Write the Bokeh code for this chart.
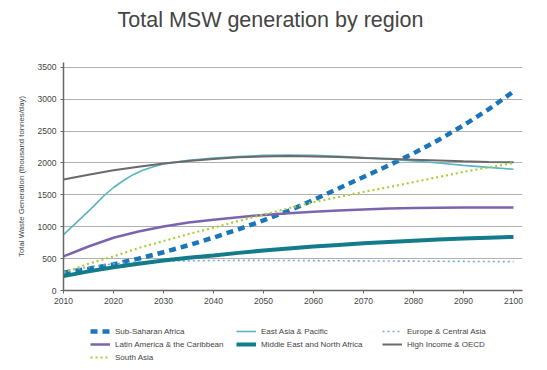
from bokeh.plotting import figure
from bokeh.layouts import column
from bokeh.models import Legend, LegendItem, Title, FixedTicker, Range1d
from bokeh.embed import file_html
from bokeh.resources import INLINE

years = [2010, 2015, 2020, 2025, 2030, 2035, 2040, 2045, 2050, 2055,
         2060, 2065, 2070, 2075, 2080, 2085, 2090, 2095, 2100]

sub_saharan = [280, 340, 410, 500, 600, 710, 830, 960, 1100, 1250,
               1420, 1600, 1780, 1960, 2150, 2360, 2590, 2840, 3120]
south_asia = [280, 420, 535, 665, 775, 885, 985, 1090, 1190, 1290,
              1385, 1465, 1545, 1620, 1700, 1780, 1860, 1930, 2000]
latin_america = [534, 690, 827, 925, 1005, 1065, 1110, 1150, 1185, 1212,
                 1235, 1255, 1272, 1284, 1292, 1297, 1300, 1302, 1303]
middle_east = [225, 300, 366, 420, 471, 513, 549, 590, 628, 660,
               690, 715, 740, 760, 780, 800, 815, 828, 840]
europe = [295, 370, 420, 445, 460, 465, 470, 472, 472, 470,
          468, 466, 464, 462, 460, 458, 456, 454, 452]
high_income = [1740, 1815, 1885, 1940, 1990, 2030, 2060, 2088, 2103, 2108,
               2103, 2092, 2077, 2064, 2051, 2038, 2025, 2015, 2009]

east_asia_years = [2010, 2012, 2014, 2016, 2018, 2020, 2022, 2024, 2026,
                   2028, 2030, 2035, 2040, 2045, 2050, 2055, 2060, 2065,
                   2070, 2075, 2080, 2085, 2090, 2095, 2100]
east_asia = [875, 1020, 1170, 1320, 1480, 1615, 1725, 1820, 1890,
             1940, 1985, 2040, 2075, 2100, 2118, 2125, 2119, 2105,
             2083, 2058, 2030, 1998, 1962, 1930, 1900]

x_ticks = [2010, 2020, 2030, 2040, 2050, 2060, 2070, 2080, 2090, 2100]
y_ticks = [0, 500, 1000, 1500, 2000, 2500, 3000, 3500]

TITLE = "Total MSW generation by region"
FONT = "Liberation Sans"
TXT = "#444444"

styles = {
    "Sub-Saharan Africa": dict(line_color="#1b75bb", line_width=4.5,
                               line_dash="7 5", line_cap="butt"),
    "East Asia & Pacific": dict(line_color="#5ab4c2", line_width=1.6),
    "Europe & Central Asia": dict(line_color="#7aa8dc", line_width=1.6,
                                  line_dash="2 3"),
    "Latin America & the Caribbean": dict(line_color="#7b64ad", line_width=2.5),
    "Middle East and North Africa": dict(line_color="#137b8c", line_width=4),
    "High Income & OECD": dict(line_color="#6a6a6a", line_width=2),
    "South Asia": dict(line_color="#a7cf38", line_width=2.2, line_dash="2 3"),
}
series = [
    ("Sub-Saharan Africa", years, sub_saharan),
    ("East Asia & Pacific", east_asia_years, east_asia),
    ("Europe & Central Asia", years, europe),
    ("Latin America & the Caribbean", years, latin_america),
    ("Middle East and North Africa", years, middle_east),
    ("High Income & OECD", years, high_income),
    ("South Asia", years, south_asia),
]

W = 542

# ---- header with title ----
head = figure(width=W, height=62, output_backend="svg", toolbar_location=None,
              x_axis_type=None, y_axis_type=None, min_border=0,
              x_range=Range1d(0, 1), y_range=Range1d(0, 1))
head.outline_line_color = None
head.grid.visible = False
head.title = None
head.add_layout(Title(text=TITLE, text_font=FONT, text_font_size="21.5px",
                      text_font_style="normal", text_color=TXT,
                      align="left", offset=54, vertical_align="top",
                      standoff=14), "above")

# ---- main plot ----
p = figure(frame_width=459, frame_height=228, output_backend="svg",
           toolbar_location=None,
           x_range=Range1d(2010, 2101.8), y_range=Range1d(0, 3575),
           min_border_left=63, min_border_right=W - 63 - 459,
           min_border_top=0, min_border_bottom=17)
p.outline_line_color = None
p.title = None

for name, xs, ys in series:
    p.line(xs, ys, **styles[name])

p.xgrid.visible = False
p.ygrid.grid_line_color = "#b0b0b0"
p.ygrid.grid_line_width = 1.2

p.xaxis.ticker = FixedTicker(ticks=x_ticks)
p.yaxis.ticker = FixedTicker(ticks=y_ticks)
for ax in (p.xaxis[0], p.yaxis[0]):
    ax.axis_line_color = "#666666"
    ax.axis_line_width = 1.5
    ax.major_tick_line_color = "#666666"
    ax.major_tick_out = 3
    ax.major_tick_in = 0
    ax.minor_tick_line_color = None
    ax.major_label_text_font = FONT
    ax.major_label_text_font_size = "8.5px"
    ax.major_label_text_color = TXT
    ax.major_label_standoff = 4

p.yaxis.axis_label = "Total Waste Generation (thousand tonnes/day)"
p.yaxis.axis_label_text_font = FONT
p.yaxis.axis_label_text_font_size = "7.8px"
p.yaxis.axis_label_text_font_style = "normal"
p.yaxis.axis_label_text_color = TXT
p.yaxis.axis_label_standoff = 9

# ---- legend strip (same series, drawn out of its view; only the key shows) ----
leg = figure(width=W, height=62, output_backend="svg", toolbar_location=None,
             x_axis_type=None, y_axis_type=None, min_border=0,
             x_range=Range1d(0, 1), y_range=Range1d(0, 1))
leg.outline_line_color = None
leg.grid.visible = False
leg.title = None
items = []
for name, xs, ys in series:
    r = leg.line(xs, ys, **styles[name])
    items.append(LegendItem(label=name, renderers=[r]))

legend = Legend(items=items, orientation="horizontal", ncols=3,
                location=(27, 6),
                label_text_font=FONT, label_text_font_size="8px",
                label_text_color=TXT, glyph_width=20, glyph_height=12,
                label_height=12, label_width=120, label_standoff=5,
                spacing=1, padding=0, margin=0, border_line_color=None,
                background_fill_alpha=0)
leg.add_layout(legend, "center")

layout = column(head, p, leg, spacing=0)
open("out.html", "w").write(file_html(layout, INLINE))
